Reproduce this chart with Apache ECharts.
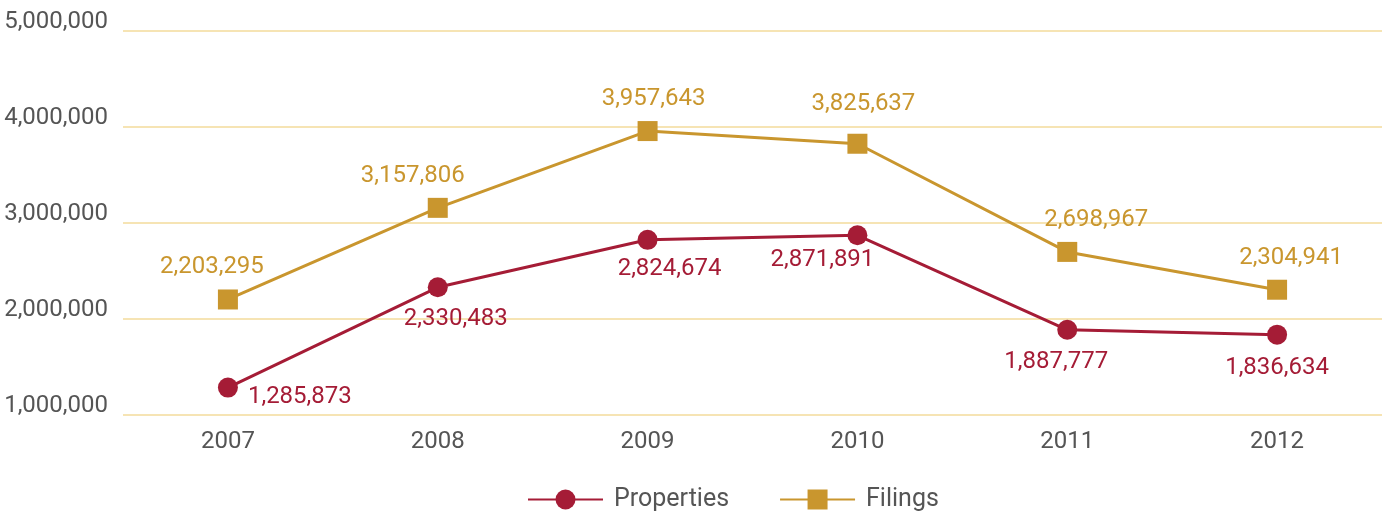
<!DOCTYPE html>
<html>
<head>
<meta charset="utf-8">
<script src="https://cdn.jsdelivr.net/npm/echarts@6/dist/echarts.min.js"></script>
<style>
  html, body { margin: 0; padding: 0; background: #ffffff; }
  #chart { width: 1385px; height: 512px; }
</style>
</head>
<body>
<div id="chart"></div>
<script>
// Foreclosure activity by year
const years = ['2007', '2008', '2009', '2010', '2011', '2012'];
const properties = [1285873, 2330483, 2824674, 2871891, 1887777, 1836634];
const filings = [2203295, 3157806, 3957643, 3825637, 2698967, 2304941];
const yTicks = { min: 1000000, max: 5000000, step: 1000000 };

// Per-point label nudges so the value labels sit clear of the lines
const propLabelPos = ['right', 'bottom', 'bottom', 'bottom', 'bottom', 'bottom'];
const propLabelOffsets = [[4, 9], [18, 4], [22, 1], [-35, -3], [-11, 4], [0, 5]];
const filingLabelOffsets = [[-16, 0], [-25, 0], [6, 0], [6, -8], [29, 0], [14, 0]];

const RED = '#a51c36';
const GOLD = '#c9962e';
const GREY = '#555555';
const FONT = 'Roboto, "DejaVu Sans Condensed", sans-serif';
const FS = 24;
const fmt = v => Number(v).toLocaleString('en-US');

const chart = echarts.init(document.getElementById('chart'), null, { renderer: 'canvas' });

chart.setOption({
  animation: false,
  textStyle: { fontFamily: FONT },
  grid: { left: 123, right: 3, top: 31, bottom: 97, containLabel: false, outerBoundsMode: 'none' },
  legend: {
    top: 482,
    left: 522,
    itemWidth: 75,
    itemHeight: 25,
    itemGap: 50,
    textStyle: { fontFamily: FONT, fontSize: 25, color: GREY, padding: [0, 0, 0, 6] },
    data: ['Properties', 'Filings']
  },
  xAxis: {
    type: 'category',
    data: years,
    boundaryGap: true,
    axisLine: { show: false },
    axisTick: { show: false },
    axisLabel: { fontFamily: FONT, fontSize: FS, color: GREY, margin: 15 }
  },
  yAxis: {
    type: 'value',
    min: yTicks.min,
    max: yTicks.max,
    interval: yTicks.step,
    axisLine: { show: false },
    axisTick: { show: false },
    splitLine: { lineStyle: { color: '#f6e4b4', width: 2 } },
    axisLabel: {
      fontFamily: FONT, fontSize: FS, color: GREY, margin: 15,
      verticalAlign: 'bottom', lineHeight: 18,
      formatter: fmt
    }
  },
  series: [
    {
      name: 'Properties',
      type: 'line',
      symbol: 'circle',
      symbolSize: 20,
      lineStyle: { color: RED, width: 3 },
      itemStyle: { color: RED },
      label: { show: true, fontFamily: FONT, fontSize: FS, color: RED, formatter: p => fmt(p.value) },
      data: properties.map((v, i) => ({
        value: v,
        label: { position: propLabelPos[i], distance: 6, offset: propLabelOffsets[i] }
      }))
    },
    {
      name: 'Filings',
      type: 'line',
      symbol: 'rect',
      symbolSize: 20,
      lineStyle: { color: GOLD, width: 3 },
      itemStyle: { color: GOLD },
      label: { show: true, fontFamily: FONT, fontSize: FS, color: GOLD, formatter: p => fmt(p.value) },
      data: filings.map((v, i) => ({
        value: v,
        label: { position: 'top', distance: 10, offset: filingLabelOffsets[i] }
      }))
    }
  ]
});
</script>
</body>
</html>
